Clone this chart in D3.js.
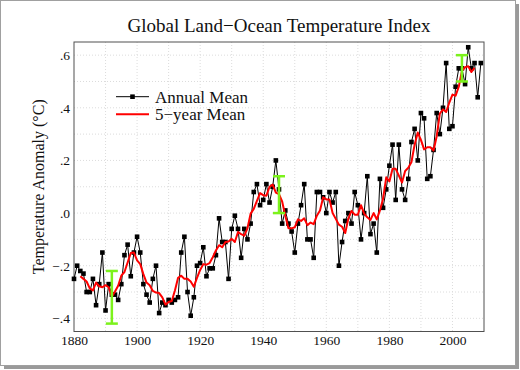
<!DOCTYPE html>
<html>
<head>
<meta charset="utf-8">
<script src="https://cdn.jsdelivr.net/npm/d3@7"></script>
<style>
  body { margin: 0; background: #fff; }
  svg { display: block; font-family: "Liberation Serif", "DejaVu Serif", serif; }
</style>
</head>
<body>
<div id="root"></div>
<script>
// annual mean anomaly, 1880-2009 (deg C)
const years = d3.range(1880, 2010);
const annual = [
  -.25, -.20, -.22, -.23, -.30, -.30, -.25, -.35, -.27, -.15,
  -.37, -.27, -.31, -.31, -.33, -.27, -.16, -.12, -.24, -.15,
  -.09, -.15, -.27, -.31, -.34, -.25, -.20, -.38, -.34, -.35,
  -.33, -.34, -.33, -.32, -.15, -.09, -.30, -.39, -.32, -.20,
  -.19, -.13, -.24, -.21, -.21, -.16, -.02, -.11, -.11, -.25,
  -.06, -.01, -.06, -.17, -.06, -.10, -.04, .08, .11, .03,
  .05, .11, .04, .10, .20, .09, -.04, .01, -.04, -.07,
  -.15, -.04, .03, .11, -.10, -.10, -.17, .08, .08, .06,
  .00, .08, .04, .08, -.20, -.11, -.03, .00, -.04, .08,
  .03, -.10, .00, .14, -.08, -.04, -.15, .13, .02, .09,
  .18, .26, .05, .26, .09, .05, .13, .27, .32, .20,
  .38, .36, .13, .14, .24, .38, .30, .40, .57, .32,
  .33, .48, .55, .55, .49, .63, .55, .57, .44, .57
];

// 5-year mean, 1882-2007
const meanYears = d3.range(1882, 2008);
const fiveYear = [
  -.240, -.250, -.260, -.286, -.294, -.264, -.278, -.282,
  -.274, -.282, -.318, -.298, -.276, -.238, -.224, -.188, -.152, -.150,
  -.180, -.194, -.232, -.264, -.274, -.296, -.302, -.304, -.320, -.348,
  -.338, -.334, -.294, -.246, -.238, -.250, -.250, -.260, -.280, -.246,
  -.216, -.194, -.196, -.190, -.168, -.142, -.122, -.130, -.110, -.108,
  -.098, -.110, -.072, -.080, -.086, -.058, -.002, .016, .046, .076,
  .068, .066, .100, .108, .078, .072, .044, -.010, -.058, -.058,
  -.054, -.024, -.030, -.020, -.046, -.036, -.042, -.010, .010, .060,
  .052, .052, .000, -.022, -.044, -.052, -.076, -.020, .008, -.006,
  -.006, .030, -.002, -.016, -.026, .000, -.024, .010, .054, .136,
  .120, .168, .168, .142, .116, .160, .172, .194, .260, .306,
  .278, .242, .250, .250, .238, .292, .378, .394, .384, .420,
  .450, .446, .480, .540, .554, .558, .536, .552
];

// uncertainty bars
const errYears = [1892, 1945, 2003];
const errMid = [-.32, .07, .55];
const errHalf = [.10, .07, .05];

const yTicks = [-.4, -.2, 0, .2, .4, .6];
const yTickText = ["\u2212.4", "\u2212.2", ".0", ".2", ".4", ".6"];
const xTicks = [1880, 1900, 1920, 1940, 1960, 1980, 2000];

const W = 520, H = 370;
const pl = 74, pr = 484, pt = 42, pb = 331.5;

const svg = d3.select("#root").append("svg")
    .attr("width", W)
    .attr("height", H);

// outer frame with shadow
svg.append("rect")
    .attr("x", 4).attr("y", 4)
    .attr("width", 515).attr("height", 365)
    .attr("fill", "#9a9a9a");
svg.append("rect")
    .attr("x", 0.5).attr("y", 0.5)
    .attr("width", 515).attr("height", 365)
    .attr("fill", "#fff")
    .attr("stroke", "#a0a0a0");

let x = d3.scaleLinear().domain([1880, 2010]).range([pl, pr]);
let y = d3.scaleLinear().domain([-.45, .65]).range([pb, pt]);

// grid
svg.append("g")
    .selectAll("line")
    .data(d3.range(-.4, .61, .1))
    .enter().append("line")
    .attr("x1", pl).attr("x2", pr)
    .attr("y1", d => y(d)).attr("y2", d => y(d))
    .attr("stroke", "#dcdcdc")
    .attr("stroke-dasharray", "1,2");
svg.append("g")
    .selectAll("line")
    .data(d3.range(1890, 2010, 10))
    .enter().append("line")
    .attr("y1", pt).attr("y2", pb)
    .attr("x1", d => x(d)).attr("x2", d => x(d))
    .attr("stroke", "#dcdcdc")
    .attr("stroke-dasharray", "1,2");

// axes
let xAxis = d3.axisBottom(x)
    .tickValues(xTicks)
    .tickFormat(d3.format("d"))
    .tickSize(0)
    .tickPadding(4);
let yAxis = d3.axisLeft(y)
    .tickValues(yTicks)
    .tickFormat((d, i) => yTickText[i])
    .tickSize(0)
    .tickPadding(4);

svg.append("g")
    .attr("transform", "translate(0," + pb + ")")
    .call(xAxis)
    .call(g => g.select(".domain").remove())
    .selectAll("text")
    .attr("font-family", "Liberation Serif")
    .attr("font-size", "13.5px")
    .attr("fill", "#111");

svg.append("g")
    .attr("transform", "translate(" + pl + ",0)")
    .call(yAxis)
    .call(g => g.select(".domain").remove())
    .selectAll("text")
    .attr("font-family", "Liberation Serif")
    .attr("font-size", "13.5px")
    .attr("fill", "#111");

// plot border
svg.append("rect")
    .attr("x", pl).attr("y", pt)
    .attr("width", pr - pl).attr("height", pb - pt)
    .attr("fill", "none")
    .attr("stroke", "#505050");

// annual mean
let line = d3.line()
    .x((d, i) => x(years[i]))
    .y(d => y(d));

svg.append("path")
    .datum(annual)
    .attr("d", line)
    .attr("fill", "none")
    .attr("stroke", "#000")
    .attr("stroke-width", 1);

svg.selectAll(".dot")
    .data(annual)
    .enter().append("rect")
    .attr("class", "dot")
    .attr("x", (d, i) => x(years[i]) - 2.3)
    .attr("y", d => y(d) - 2.3)
    .attr("width", 4.6).attr("height", 4.6)
    .attr("fill", "#000");

// 5-year mean
let meanLine = d3.line()
    .x((d, i) => x(meanYears[i]))
    .y(d => y(d));

svg.append("path")
    .datum(fiveYear)
    .attr("d", meanLine)
    .attr("fill", "none")
    .attr("stroke", "#ff0000")
    .attr("stroke-width", 2)
    .attr("stroke-linejoin", "round");

// error bars
let bars = svg.selectAll(".err")
    .data(errYears)
    .enter().append("g")
    .attr("class", "err")
    .attr("stroke", "#7cf21c")
    .attr("stroke-width", 2.5);
bars.append("line")
    .attr("x1", d => x(d)).attr("x2", d => x(d))
    .attr("y1", (d, i) => y(errMid[i] + errHalf[i]))
    .attr("y2", (d, i) => y(errMid[i] - errHalf[i]));
bars.append("line")
    .attr("x1", d => x(d) - 6).attr("x2", d => x(d) + 6)
    .attr("y1", (d, i) => y(errMid[i] + errHalf[i]))
    .attr("y2", (d, i) => y(errMid[i] + errHalf[i]));
bars.append("line")
    .attr("x1", d => x(d) - 6).attr("x2", d => x(d) + 6)
    .attr("y1", (d, i) => y(errMid[i] - errHalf[i]))
    .attr("y2", (d, i) => y(errMid[i] - errHalf[i]));

// title and label
svg.append("text")
    .attr("x", (pl + pr) / 2)
    .attr("y", 32)
    .attr("text-anchor", "middle")
    .attr("font-size", "19px")
    .attr("fill", "#111")
    .text("Global Land\u2212Ocean Temperature Index");

svg.append("text")
    .attr("transform", "translate(44," + (pt + pb) / 2 + ") rotate(-90)")
    .attr("text-anchor", "middle")
    .attr("font-size", "16px")
    .attr("fill", "#111")
    .text("Temperature Anomaly (\u00b0C)");

// legend
let legend = svg.selectAll(".legend")
    .data([{color: "#000", w: 1, text: "Annual Mean", dot: true},
           {color: "#ff0000", w: 2, text: "5\u2212year Mean", dot: false}])
    .enter().append("g")
    .attr("class", "legend")
    .attr("transform", (d, i) => "translate(116," + (96.7 + i * 17.6) + ")");

legend.append("line")
    .attr("x1", 0).attr("x2", 33)
    .attr("stroke", d => d.color)
    .attr("stroke-width", d => d.w);
legend.filter(d => d.dot).append("rect")
    .attr("x", 14.2).attr("y", -2.3)
    .attr("width", 4.6).attr("height", 4.6)
    .attr("fill", "#000");
legend.append("text")
    .attr("x", 39)
    .attr("y", 6)
    .attr("font-size", "17px")
    .attr("fill", "#111")
    .text(d => d.text);
</script>
</body>
</html>
